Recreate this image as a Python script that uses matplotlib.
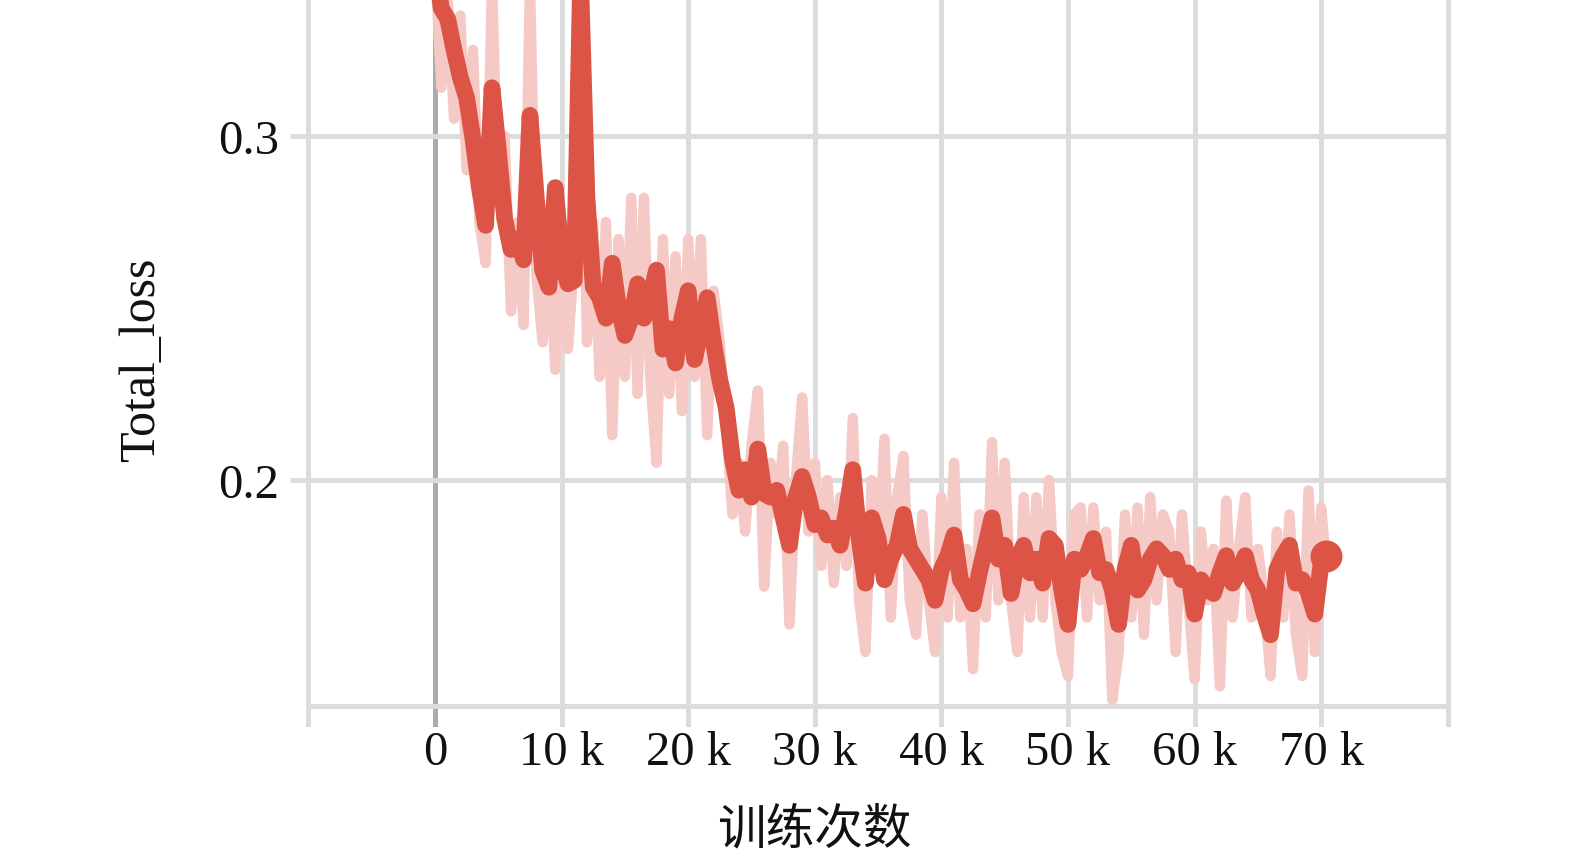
import matplotlib
matplotlib.use("Agg")
import matplotlib.pyplot as plt

# training steps (thousands), sampled every 0.5k, last logged point at 70.4k
steps_k = [i * 0.5 for i in range(141)] + [70.4]

smoothed = [
    0.350, 0.337, 0.334, 0.325, 0.317, 0.311, 0.299, 0.285, 0.274, 0.314,
    0.296, 0.276, 0.267, 0.270, 0.264, 0.306, 0.282, 0.261, 0.256, 0.285,
    0.264, 0.257, 0.258, 0.345, 0.282, 0.256, 0.253, 0.247, 0.263, 0.250,
    0.242, 0.247, 0.257, 0.247, 0.253, 0.261, 0.238, 0.244, 0.234, 0.247,
    0.255, 0.235, 0.244, 0.253, 0.240, 0.229, 0.221, 0.206, 0.197, 0.203,
    0.195, 0.209, 0.196, 0.195, 0.197, 0.189, 0.181, 0.195, 0.201, 0.195,
    0.187, 0.189, 0.184, 0.186, 0.181, 0.191, 0.203, 0.183, 0.170, 0.189,
    0.183, 0.171, 0.177, 0.181, 0.190, 0.180, 0.177, 0.174, 0.171, 0.165,
    0.174, 0.178, 0.184, 0.171, 0.168, 0.164, 0.173, 0.181, 0.189, 0.177,
    0.181, 0.167, 0.177, 0.181, 0.173, 0.177, 0.170, 0.183, 0.181, 0.168,
    0.158, 0.177, 0.174, 0.178, 0.183, 0.173, 0.174, 0.168, 0.158, 0.174,
    0.181, 0.168, 0.171, 0.177, 0.180, 0.178, 0.174, 0.177, 0.171, 0.173,
    0.161, 0.171, 0.168, 0.167, 0.173, 0.178, 0.170, 0.173, 0.178, 0.171,
    0.168, 0.161, 0.155, 0.174, 0.178, 0.181, 0.170, 0.171, 0.167, 0.161,
    0.176, 0.178,
]

raw = [
    0.350, 0.314, 0.340, 0.305, 0.335, 0.290, 0.325, 0.275, 0.263, 0.345,
    0.280, 0.300, 0.249, 0.275, 0.245, 0.345, 0.260, 0.240, 0.270, 0.232,
    0.275, 0.238, 0.265, 0.345, 0.240, 0.275, 0.230, 0.275, 0.213, 0.270,
    0.230, 0.282, 0.225, 0.282, 0.230, 0.205, 0.270, 0.225, 0.265, 0.220,
    0.270, 0.230, 0.270, 0.213, 0.255, 0.240, 0.215, 0.190, 0.205, 0.185,
    0.210, 0.226, 0.169, 0.205, 0.190, 0.210, 0.158, 0.200, 0.224, 0.185,
    0.205, 0.175, 0.200, 0.170, 0.195, 0.175, 0.218, 0.165, 0.150, 0.200,
    0.175, 0.212, 0.160, 0.195, 0.207, 0.165, 0.155, 0.190, 0.165, 0.150,
    0.195, 0.160, 0.205, 0.160, 0.180, 0.145, 0.190, 0.160, 0.211, 0.165,
    0.205, 0.165, 0.150, 0.195, 0.160, 0.195, 0.160, 0.200, 0.165, 0.150,
    0.143, 0.190, 0.192, 0.160, 0.192, 0.165, 0.185, 0.136, 0.150, 0.190,
    0.160, 0.192, 0.155, 0.195, 0.165, 0.190, 0.185, 0.150, 0.190, 0.165,
    0.142, 0.185, 0.165, 0.180, 0.140, 0.194, 0.160, 0.180, 0.195, 0.160,
    0.180, 0.165, 0.143, 0.185, 0.160, 0.190, 0.155, 0.143, 0.197, 0.150,
    0.192, 0.175,
]

grid_k = [-10, 0, 10, 20, 30, 40, 50, 60, 70, 80]
xtick_k = [0, 10, 20, 30, 40, 50, 60, 70]
xtick_labels = ["0", "10 k", "20 k", "30 k", "40 k", "50 k", "60 k", "70 k"]
ytick_vals = [0.2, 0.3]
ytick_labels = ["0.2", "0.3"]

plt.rcParams['font.family'] = ['Liberation Serif', 'Noto Sans CJK SC', 'DejaVu Sans']

fig = plt.figure(figsize=(15.75, 8.62), dpi=100)
ax = fig.add_axes([285/1575, 134/862, 1170/1575, 728/862])
ax.set_xlim(-11.85, 80.57)
ax.set_ylim(0.1282, 0.3398)
for s in ax.spines.values():
    s.set_visible(False)

grid_c = '#dcdcdc'
for g in grid_k:
    ax.axvline(g, ymin=0.004, ymax=1, color='#ababab' if g == 0 else grid_c,
               lw=3.6, zorder=1)
for v in ytick_vals:
    ax.plot([-11.45, 80], [v, v], color=grid_c, lw=3.6, zorder=1, solid_capstyle='butt')
ax.plot([-10, 80], [0.1343, 0.1343], color=grid_c, lw=3.6, zorder=1, solid_capstyle='butt')

ax.plot(steps_k, raw, color='#f5c9c5', lw=7.5, zorder=2)
ax.plot(steps_k, smoothed, color='#db5446', lw=12, zorder=3)
ax.plot(steps_k[-1], smoothed[-1], 'o', color='#db5446', ms=22, zorder=4)

ax.set_xticks(xtick_k)
ax.set_xticklabels(xtick_labels)
ax.set_yticks(ytick_vals)
ax.set_yticklabels(ytick_labels)
ax.tick_params(axis='both', length=0, labelsize=35, colors='#111111')
ax.tick_params(axis='x', pad=2)
ax.tick_params(axis='y', pad=4)

fig.text(142/1575, 1 - 360/862, 'Total_loss', rotation=90, fontsize=36,
         ha='center', va='center', color='#111111')
fig.text(814/1575, 1 - 830/862, '训练次数', fontsize=35, ha='center', va='center',
         family=['Noto Sans CJK SC', 'DejaVu Sans'], color='#111111')

fig.savefig('out.png', dpi=100)
